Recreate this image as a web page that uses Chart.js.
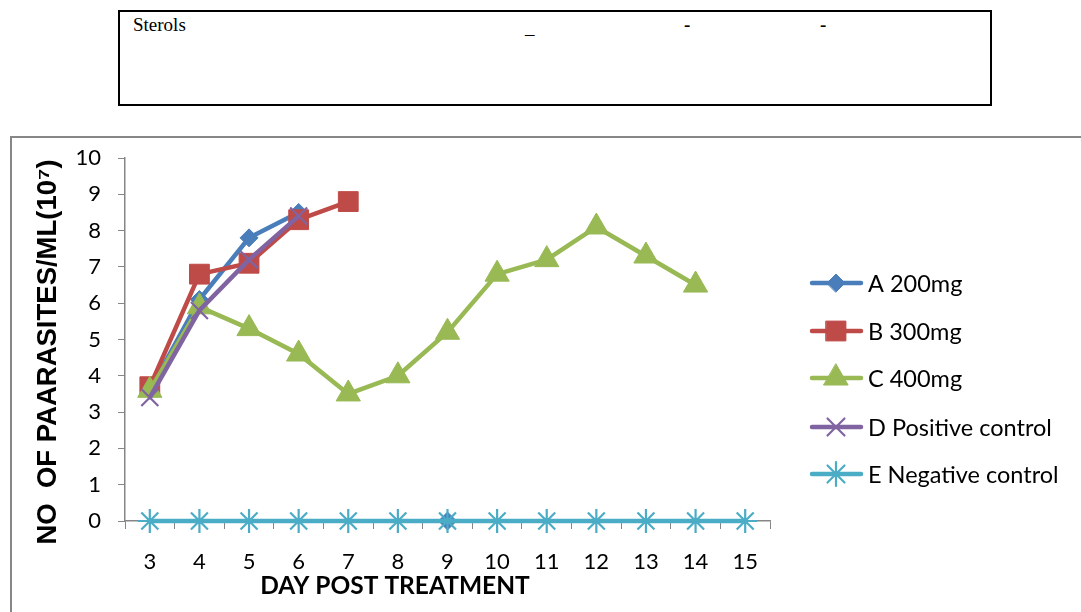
<!DOCTYPE html>
<html lang="en">

<head>
    <meta charset="UTF-8">
    <script src="https://cdn.jsdelivr.net/npm/chart.js"></script>
    <title>Parasites per ml after treatment</title>
    <style>
        body { margin: 0; background: #fff; width: 1081px; height: 612px; overflow: hidden; position: relative; }
        .tabela { position: absolute; left: 118px; top: 10px; width: 870px; height: 92px; border: 2px solid #000;
                  font-family: "Liberation Serif", "Times New Roman", serif; font-size: 19px; color: #000; }
        .tabela span { position: absolute; top: 2px; }
        .moldura { position: absolute; left: 10px; top: 136px; width: 1100px; height: 500px; border: 2px solid #878787; }
        #grafico { position: absolute; left: 0; top: 0; }
    </style>
</head>

<body>
    <div class="tabela">
        <span style="left:13px">Sterols</span>
        <span style="left:405px; top:5px">_</span>
        <span style="left:564px; font-weight:bold">-</span>
        <span style="left:700px; font-weight:bold">-</span>
    </div>
    <div class="moldura"></div>
    <canvas id="grafico" width="1081" height="612"></canvas>
</body>
<script>

    // dias apos o tratamento
    const dias = ['3', '4', '5', '6', '7', '8', '9', '10', '11', '12', '13', '14', '15'];

    // valores (10^7 parasitas/ml)
    const serieA = [3.6, 6.1, 7.8, 8.5, null, null, 0, null, null, null, null, null, null];
    const serieB = [3.7, 6.8, 7.1, 8.3, 8.8, null, null, null, null, null, null, null, null];
    const serieC = [3.6, 5.9, 5.3, 4.6, 3.5, 4.0, 5.2, 6.8, 7.2, 8.1, 7.3, 6.5, null];
    const serieD = [3.4, 5.8, 7.2, 8.4, null, null, null, null, null, null, null, null, null];
    const serieE = [0, 0, 0, 0, 0, 0, 0, 0, 0, 0, 0, 0, 0];

    const nomes = ['A 200mg', 'B 300mg', 'C 400mg', 'D Positive control', 'E Negative control'];
    const cores = ['#4A7EBB', '#BE4B48', '#98B954', '#8064A2', '#4BACC6'];
    const marcadores = ['rectRot', 'rect', 'triangle', 'crossRot', 'star'];
    const raios = [9, 14, 14, 12, 12];

    const fonteTexto = 'Lato, "Open Sans", sans-serif';

    function montarSerie(i, valores) {
        return {
            label: nomes[i],
            data: valores,
            borderColor: cores[i],
            backgroundColor: cores[i],
            borderWidth: 4.5,
            tension: 0,
            clip: false,
            pointStyle: marcadores[i],
            pointRadius: raios[i],
            pointBackgroundColor: cores[i],
            pointBorderColor: cores[i],
            pointBorderWidth: i >= 3 ? 2.2 : 1,
            order: 5 - i
        };
    }

    // legenda desenhada ao lado, linha + marcador como no Excel
    const legendaY = [283, 331, 378, 427, 474];
    const legendaLateral = {
        id: 'legendaLateral',
        afterDraw(chart) {
            const c = chart.ctx;
            chart.data.datasets.forEach(function (ds, i) {
                const y = legendaY[i];
                c.save();
                c.strokeStyle = ds.borderColor;
                c.lineWidth = 4.5;
                c.lineCap = 'round';
                c.beginPath();
                c.moveTo(812, y);
                c.lineTo(861, y);
                c.stroke();
                c.fillStyle = ds.pointBackgroundColor;
                c.strokeStyle = ds.pointBorderColor;
                c.lineWidth = ds.pointBorderWidth;
                Chart.helpers.drawPoint(c, { pointStyle: ds.pointStyle, radius: ds.pointRadius, borderWidth: ds.pointBorderWidth, rotation: 0 }, 836, y);
                c.fillStyle = '#000';
                c.font = '23.5px ' + fonteTexto;
                c.textAlign = 'left';
                c.textBaseline = 'middle';
                c.fillText(ds.label, 868, y + 1);
                c.restore();
            });

            // titulos dos eixos (no Excel ficam fora do centro da area)
            c.save();
            c.fillStyle = '#000';
            c.font = 'bold 24.5px ' + fonteTexto;
            c.textAlign = 'center';
            c.textBaseline = 'middle';
            c.fillText('DAY POST TREATMENT', 395, 586);
            c.translate(48, 352);
            c.rotate(-Math.PI / 2);
            c.font = 'bold 27.5px "Liberation Sans", Arial, "DejaVu Sans", sans-serif';
            c.fillText('NO  OF PAARASITES/ML(10\u2077)', 0, 0);
            c.restore();
        }
    };

    const config = {
        type: 'line',
        data: {
            labels: dias,
            datasets: [
                montarSerie(0, serieA),
                montarSerie(1, serieB),
                montarSerie(2, serieC),
                montarSerie(3, serieD),
                montarSerie(4, serieE)
            ]
        },
        options: {
            responsive: false,
            animation: false,
            spanGaps: false,
            layout: { padding: { top: 158, right: 311, bottom: 0, left: 0 } },
            plugins: {
                legend: { display: false },
                tooltip: { enabled: false }
            },
            scales: {
                x: {
                    offset: true,
                    grid: { offset: true, drawOnChartArea: false, tickLength: 8, color: '#868686' },
                    border: { color: '#868686', width: 1.5 },
                    ticks: { padding: 20, color: '#000', font: { family: fonteTexto, size: 22 } },
                    afterFit: function (escala) { escala.height = 91; }
                },
                y: {
                    min: 0,
                    max: 10,
                    grid: { drawOnChartArea: false, tickLength: 7, color: '#868686' },
                    border: { color: '#868686', width: 1.5 },
                    ticks: { stepSize: 1, padding: 17, color: '#000', font: { family: fonteTexto, size: 22 } },
                    afterFit: function (escala) { escala.width = 125; }
                }
            }
        },
        plugins: [legendaLateral]
    };

    let meuGrafico = new Chart(document.getElementById('grafico'), config);

</script>

</html>
